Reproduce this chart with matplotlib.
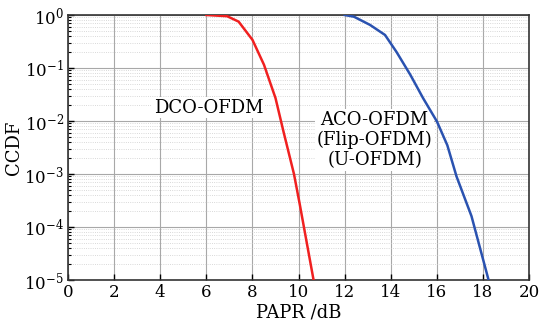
import matplotlib
matplotlib.use('Agg')
import matplotlib.pyplot as plt
import numpy as np
from matplotlib.ticker import LogLocator, FixedLocator, NullFormatter

# CCDF curves
dco_papr = [6.0, 6.9, 7.4, 8.0, 8.5, 9.0, 9.35, 9.8, 10.05, 10.65]
dco_ccdf = [1.0, 0.95, 0.75, 0.34, 0.115, 0.027, 0.0062, 0.001, 0.00027, 1e-5]

aco_papr = [12.0, 12.4, 13.1, 13.75, 14.25, 14.85, 15.4, 16.0, 16.45, 16.85, 17.5, 18.24]
aco_ccdf = [1.0, 0.93, 0.65, 0.42, 0.2, 0.074, 0.027, 0.0098, 0.0035, 0.0009, 0.00016, 1e-5]

xticks = [0, 2, 4, 6, 8, 10, 12, 14, 16, 18, 20]

plt.rcParams['font.family'] = ['DejaVu Serif']
plt.rcParams['mathtext.fontset'] = 'dejavuserif'

fig = plt.figure(figsize=(5.41, 3.30), dpi=100)
ax = fig.add_axes([0.1257, 0.1515, 0.8524, 0.803])

ax.plot(dco_papr, dco_ccdf, color='#f02020', lw=1.8, zorder=4)
ax.plot(aco_papr, aco_ccdf, color='#2a52b0', lw=1.8, zorder=4)

ax.set_yscale('log')
ax.set_xlim(0, 20)
ax.set_ylim(1e-5, 1)
ax.set_xticks(xticks)
ax.yaxis.set_major_locator(FixedLocator([1e-5, 1e-4, 1e-3, 1e-2, 1e-1, 1]))
ax.yaxis.set_minor_locator(LogLocator(base=10, subs=np.arange(2, 10), numticks=20))
ax.yaxis.set_minor_formatter(NullFormatter())

ax.grid(True, which='major', color='#a8a8a8', lw=0.8)
ax.grid(True, which='minor', axis='y', color='#cccccc', lw=0.6, ls=':')
ax.set_axisbelow(True)

ax.tick_params(which='both', direction='in', labelsize=12, top=False, right=False)
ax.tick_params(which='major', length=4, width=1, pad=3)
ax.tick_params(which='minor', length=2, width=0.8)
for s in ax.spines.values():
    s.set_linewidth(1.2)
    s.set_color('#333333')

ax.set_xlabel('PAPR /dB', fontsize=13, labelpad=2)
ax.set_ylabel('CCDF', fontsize=13, labelpad=1)

box = dict(facecolor='white', edgecolor='none', pad=1)
ax.text(6.1, 10**-1.75, 'DCO-OFDM', fontsize=13, ha='center', va='center', bbox=box)
ax.text(13.3, 10**-2.36, 'ACO-OFDM\n(Flip-OFDM)\n(U-OFDM)', fontsize=13,
        ha='center', va='center', linespacing=1.15, bbox=box)

fig.savefig('out.png', dpi=100)
